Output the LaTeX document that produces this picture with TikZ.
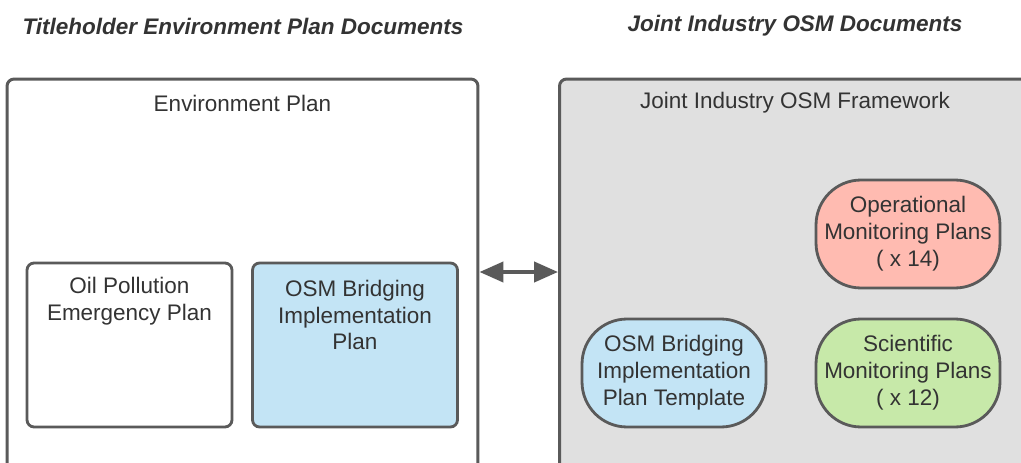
\documentclass[tikz,border=0pt]{standalone}
\usepackage{fontspec}
\setmainfont{Liberation Sans}
\usetikzlibrary{arrows.meta}

\definecolor{edgegray}{HTML}{5A5A5A}
\definecolor{textgray}{HTML}{333333}
\definecolor{framegray}{HTML}{E0E0E0}
\definecolor{planblue}{HTML}{C3E4F5}
\definecolor{opred}{HTML}{FFBBB1}
\definecolor{scigreen}{HTML}{C7E9A9}

\begin{document}
\begin{tikzpicture}[x=0.02cm, y=-0.02cm,
  every node/.style={font=\fontsize{12.8}{15.3}\selectfont, text=textgray, align=center},
  heading/.style={font=\fontsize{12.8}{15.3}\selectfont\bfseries\itshape},
  bigbox/.style={draw=edgegray, line width=1.7pt, rounded corners=4pt, minimum width=9.42cm, minimum height=9.2cm},
  planbox/.style={draw=edgegray, line width=1.6pt, rounded corners=4pt, minimum width=4.1cm, minimum height=3.28cm},
  pill/.style={draw=edgegray, line width=1.6pt, rounded corners=0.9cm, minimum width=3.68cm, minimum height=2.16cm}]
				\useasboundingbox (0,0) rectangle (1021,463);
				\clip (0,0) rectangle (1021,463);
				\fill[white] (0,0) rectangle (1021,463);
				
				% Headings
				\node[heading] (tleft) at (243,26) {Titleholder Environment Plan Documents};
				\node[heading] (tright) at (795,26) {Joint Industry OSM Documents};
				
				% Big frames (run off the bottom)
				\node[bigbox] (envplan) at (242.5,309) {};
				\node[bigbox, fill=framegray] (osmframe) at (795,309) {};
				\node (envtitle) at (242.5,103) {Environment Plan};
				\node (frametitle) at (795,103) {Joint Industry OSM Framework};
				
				% Plans inside the Environment Plan
				\node[planbox] (opep) at (129.5,345) {};
				\node[planbox, fill=planblue] (obip) at (355,345) {};
				\node at (129.5,301.5) {Oil Pollution\\Emergency Plan};
				\node at (355,315) {OSM Bridging\\Implementation\\Plan};
				
				% Plans inside the framework
				\node[pill, fill=opred] (omp) at (908,234) {Operational\\Monitoring Plans\\( x 14)};
				\node[pill, fill=planblue] (obipt) at (674,373) {OSM Bridging\\Implementation\\Plan Template};
				\node[pill, fill=scigreen] (smp) at (908,373) {Scientific\\Monitoring Plans\\( x 12)};
				
				% Link between the two sides
				\draw[edgegray, line width=2.3pt, {Triangle[length=0.48cm, width=0.4cm]}-{Triangle[length=0.48cm, width=0.4cm]}]
					(envplan.east |- 0,272) -- (osmframe.west |- 0,272);
\end{tikzpicture}
\end{document}
